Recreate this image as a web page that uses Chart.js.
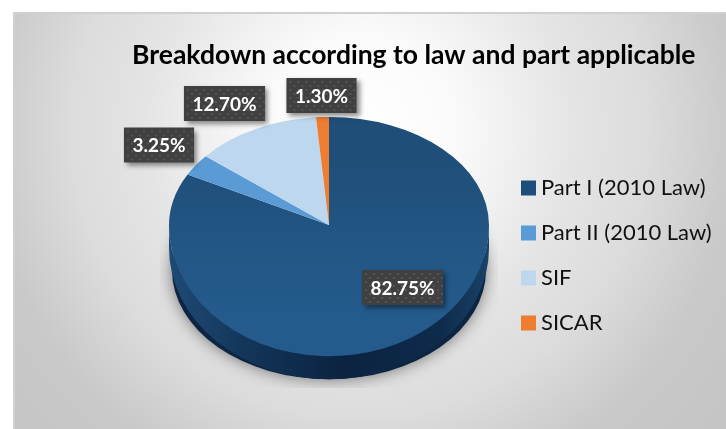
<!DOCTYPE html>
<html>
<head>
<meta charset="utf-8">
<script src="https://cdn.jsdelivr.net/npm/chart.js@4"></script>
<style>
  html, body { margin: 0; padding: 0; background: #fff; overflow: hidden; }
  canvas { display: block; }
</style>
</head>
<body>
<canvas id="chart" width="726" height="429"></canvas>
<script>
const titleText = "Breakdown according to law and part applicable";
const categories = ["Part I (2010 Law)", "Part II (2010 Law)", "SIF", "SICAR"];
const shares = [82.75, 3.25, 12.7, 1.3];
const sliceColors = ["#1f4e79", "#5b9bd5", "#bdd7ee", "#ed7d31"];
const valueLabels = ["82.75%", "3.25%", "12.70%", "1.30%"];
// label box centre, relative to the middle of the pie
const labelOffsets = [[73.5, 62.5], [-170, -80], [-104.5, -121.5], [-7.5, -129.5]];

// the pie is seen in perspective: the half behind the middle is flatter
const squashBack = 0.675;
const squashFront = 0.82;
const depth = 23;

function drawHalf(chart, arc, top, height, squash) {
  const ctx = chart.ctx;
  ctx.save();
  ctx.beginPath();
  ctx.rect(0, top, chart.width, height);
  ctx.clip();
  ctx.translate(arc.x, arc.y);
  ctx.scale(1, squash);
  ctx.translate(-arc.x, -arc.y);
  chart.getDatasetMeta(0).controller.draw();
  ctx.restore();
}

let faceGradient = null;
function sliceColor(context) {
  if (context.dataIndex !== 0) return sliceColors[context.dataIndex];
  if (!faceGradient) {
    faceGradient = context.chart.ctx.createLinearGradient(0, 130, 0, 330);
    faceGradient.addColorStop(0, "#1f4e79");
    faceGradient.addColorStop(1, "#245b8c");
  }
  return faceGradient;
}

const frame = {
  id: "frame",
  beforeDraw(chart) {
    const ctx = chart.ctx;
    const x = 13, y = 12, w = 713, h = 417;
    ctx.save();
    const bg = ctx.createRadialGradient(360, 130, 0, 360, 130, 480);
    bg.addColorStop(0, "#ffffff");
    bg.addColorStop(0.2, "#fafafa");
    bg.addColorStop(0.45, "#e4e4e4");
    bg.addColorStop(0.6, "#dcdcdc");
    bg.addColorStop(0.78, "#c9c9c9");
    bg.addColorStop(1, "#c4c4c4");
    ctx.fillStyle = bg;
    ctx.fillRect(x, y, w, h);
    ctx.fillStyle = "#d0d0d0";
    ctx.fillRect(x, y, w, 2);
    ctx.fillRect(x, y, 2, h);
    ctx.restore();
  },
  // title, legend and pie go where the reference has them
  afterLayout(chart) {
    chart.titleBlock.top += 9;
    chart.titleBlock.bottom += 9;
    chart.titleBlock.right = 695.5;
    chart.legend.left = 504;
    chart.legend.right = 739;
    chart.legend.top = 154;
    chart.legend.bottom = 429;
    chart.chartArea.left = 169;
    chart.chartArea.right = 489;
    chart.chartArea.top = 65;
    chart.chartArea.bottom = 385;
    chart.chartArea.width = 320;
    chart.chartArea.height = 320;
  },
  beforeDatasetsDraw(chart) {
    const ctx = chart.ctx;
    const arc = chart.getDatasetMeta(0).data[0];
    const rx = arc.outerRadius;
    const ryFront = rx * squashFront;

    // soft shadow, cut off along the bottom like the reference
    ctx.save();
    ctx.beginPath();
    ctx.rect(arc.x - 169, arc.y, 338, 163);
    ctx.clip();
    ctx.shadowColor = "rgba(0,0,0,0.5)";
    ctx.shadowBlur = 16;
    ctx.fillStyle = "#0c2542";
    ctx.beginPath();
    ctx.ellipse(arc.x, arc.y + 45, rx - 3, ryFront - 22, 0, 0, Math.PI * 2);
    ctx.fill();
    ctx.restore();

    // side wall
    ctx.save();
    const side = ctx.createLinearGradient(arc.x - rx, 0, arc.x + rx, 0);
    side.addColorStop(0, "#1f4a75");
    side.addColorStop(0.25, "#123559");
    side.addColorStop(0.55, "#0b2340");
    side.addColorStop(0.85, "#0e2b4c");
    side.addColorStop(1, "#1a4267");
    ctx.fillStyle = side;
    ctx.beginPath();
    ctx.ellipse(arc.x, arc.y, rx, ryFront, 0, Math.PI, 0, true);
    ctx.ellipse(arc.x, arc.y + depth, rx, ryFront, 0, 0, Math.PI);
    ctx.closePath();
    ctx.fill();
    ctx.restore();

    drawHalf(chart, arc, 0, arc.y, squashBack);
    drawHalf(chart, arc, arc.y, chart.height - arc.y, squashFront);
    return false;
  },
  afterDraw(chart) {
    const ctx = chart.ctx;
    const arcs = chart.getDatasetMeta(0).data;
    const cx = arcs[0].x, cy = arcs[0].y;

    ctx.save();
    ctx.font = "bold 19px Lato";
    ctx.textAlign = "center";
    ctx.textBaseline = "middle";
    valueLabels.forEach((label, i) => {
      const bx = cx + labelOffsets[i][0];
      const by = cy + labelOffsets[i][1];
      const w = ctx.measureText(label).width + 17, h = 35;
      ctx.save();
      ctx.shadowColor = "rgba(0,0,0,0.45)";
      ctx.shadowBlur = 5;
      ctx.shadowOffsetX = 3;
      ctx.shadowOffsetY = 3;
      ctx.fillStyle = "#404040";
      ctx.fillRect(bx - w / 2, by - h / 2, w, h);
      ctx.restore();
      // dotted fill of the label boxes
      ctx.fillStyle = "#555555";
      let row = 0;
      for (let py = by - h / 2 + 3; py < by + h / 2 - 1; py += 4) {
        for (let px = bx - w / 2 + (row % 2 ? 7 : 3); px < bx + w / 2 - 1; px += 8) {
          ctx.fillRect(px, py, 2, 2);
        }
        row++;
      }
      ctx.fillStyle = "#fff";
      ctx.fillText(label, bx, by + 1);
    });
    ctx.restore();
  },
};

const baseLabels = Chart.overrides.doughnut.plugins.legend.labels.generateLabels;

new Chart(document.getElementById("chart"), {
  type: "pie",
  plugins: [frame],
  data: {
    labels: categories,
    datasets: [{
      data: shares,
      backgroundColor: sliceColor,
      borderWidth: 0,
    }],
  },
  options: {
    responsive: false,
    animation: false,
    plugins: {
      tooltip: { enabled: false },
      title: {
        display: true,
        text: titleText,
        align: "end",
        color: "#000",
        font: { family: "Lato", size: 26.5, weight: "bold" },
        padding: { top: 31, bottom: 0 },
      },
      legend: {
        position: "right",
        align: "start",
        labels: {
          // thin box plus thick stroke keeps the swatch close to its text
          boxWidth: 3,
          boxHeight: 3,
          padding: 23,
          color: "#111",
          font: { family: "Lato", size: 22 },
          generateLabels(chart) {
            return baseLabels(chart).map((item, i) => ({
              ...item,
              fillStyle: sliceColors[i],
              strokeStyle: sliceColors[i],
              lineWidth: 12,
            }));
          },
        },
      },
    },
  },
});
</script>
</body>
</html>
